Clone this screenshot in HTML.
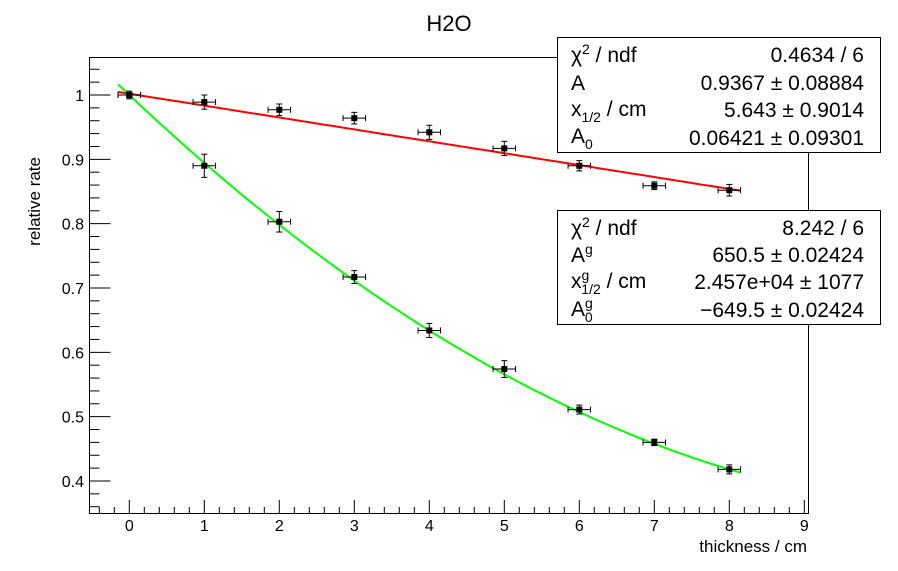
<!DOCTYPE html>
<html><head><meta charset="utf-8"><style>
body{margin:0;background:#fff}
svg{display:block;font-family:"Liberation Sans",sans-serif}
</style></head><body>
<svg id="c" width="898" height="571">
<text x="449" y="31" font-size="22" text-anchor="middle">H2O</text>
<rect x="89.5" y="57.5" width="719" height="456" fill="none" stroke="#000"/>
<g id="ax"></g>
<g id="marks"></g>
<text x="807" y="552" font-size="17" text-anchor="end">thickness / cm</text>
<text transform="translate(40,157) rotate(-90)" font-size="17" text-anchor="end">relative rate</text>
<g font-size="21">
<rect x="557.5" y="37.5" width="323" height="115" fill="#fff" stroke="#000"/>
<text x="571" y="62">χ<tspan font-size="14" dy="-8">2</tspan><tspan dy="8"> / ndf</tspan></text><text x="864" y="62" text-anchor="end">0.4634 / 6</text>
<text x="571" y="90">A</text><text x="864" y="90" text-anchor="end">0.9367 ± 0.08884</text>
<text x="571" y="116">x<tspan font-size="14" dy="6">1/2</tspan><tspan dy="-6"> / cm</tspan></text><text x="864" y="117" text-anchor="end">5.643 ± 0.9014</text>
<text x="571" y="143">A<tspan font-size="14" dy="6">0</tspan></text><text x="864" y="145" text-anchor="end">0.06421 ± 0.09301</text>
</g>
<g font-size="21">
<rect x="557.5" y="210.5" width="323" height="114" fill="#fff" stroke="#000"/>
<text x="571" y="235">χ<tspan font-size="14" dy="-8">2</tspan><tspan dy="8"> / ndf</tspan></text><text x="864" y="235" text-anchor="end">8.242 / 6</text>
<text x="571" y="262">A<tspan font-size="14" dy="-8">g</tspan></text><text x="864" y="262" text-anchor="end">650.5 ± 0.02424</text>
<text x="571" y="288">x<tspan font-size="14" dy="-8">g</tspan><tspan font-size="14" dx="-8" dy="14">1/2</tspan><tspan dy="-6"> / cm</tspan></text><text x="864" y="289" text-anchor="end">2.457e+04 ±  1077</text>
<text x="571" y="316">A<tspan font-size="14" dy="-8">g</tspan><tspan font-size="14" dx="-8" dy="14">0</tspan></text><text x="864" y="317" text-anchor="end">−649.5 ± 0.02424</text>
</g>
</svg>
<script>
const xs=[0,1,2,3,4,5,6,7,8];
const redY=[1.0,0.989,0.977,0.964,0.942,0.917,0.890,0.859,0.852];
const redErr=[0.006,0.011,0.009,0.009,0.011,0.011,0.008,0.006,0.009];
const greenY=[1.0,0.890,0.803,0.717,0.634,0.574,0.511,0.460,0.418];
const greenErr=[0.004,0.018,0.016,0.010,0.011,0.013,0.007,0.005,0.007];
const xErr=0.15;
const xTicks=[0,1,2,3,4,5,6,7,8,9];
const yTicks=[0.4,0.5,0.6,0.7,0.8,0.9,1];
const NS="http://www.w3.org/2000/svg";
const X=v=>129.3+75*v, Y=v=>95+(1-v)*643.3;
function mk(t,a,p){const e=document.createElementNS(NS,t);for(const k in a)e.setAttribute(k,a[k]);p.appendChild(e);return e;}
const ax=document.getElementById('ax'),mg=document.getElementById('marks');
for(let v=-0.4;v<=9.01;v+=0.2){const r=Math.round(v*10)/10;const maj=Math.abs(r-Math.round(r))<1e-6;
 mk('line',{x1:X(r),x2:X(r),y1:513,y2:513-(maj?13:6),stroke:'#000'},ax);}
xTicks.forEach(t=>{const e=mk('text',{x:X(t),y:531,'font-size':16,'text-anchor':'middle'},ax);e.textContent=t;

});
for(let v=0.36;v<=1.06;v+=0.02){const r=Math.round(v*100)/100;const maj=Math.abs(r*10-Math.round(r*10))<1e-6;
 if(Y(r)>513||Y(r)<57)continue;
 mk('line',{x1:89.5,x2:89.5+(maj?21:10),y1:Y(r),y2:Y(r),stroke:'#000'},ax);}
yTicks.forEach(t=>{const e=mk('text',{x:84,y:Y(t)+6,'font-size':16,'text-anchor':'end'},ax);e.textContent=t;

});
function fitPath(f,col,name){let d='';for(let v=-0.15;v<=8.15;v+=0.05)d+=(d?'L':'M')+X(v).toFixed(1)+','+Y(f(v)).toFixed(1);
 const p=mk('path',{d:d,fill:'none',stroke:col,'stroke-width':2},mg);
 
 }
const rA=redY[0],rB=(redY[8]-redY[0])/8;
fitPath(v=>rA+rB*v+0.002,'#f00','red-fit-line');
const g0=greenY[0],g4=greenY[4],g8=greenY[8];
const gc=(g8-2*g4+g0)/32,gb=(g4-g0)/4-4*gc;
fitPath(v=>g0+gb*v+gc*v*v,'#0f0','green-fit-line');
function pts(ys,es,name){xs.forEach((x,i)=>{const g=mk('g',{},mg);
 
 
 const cx=X(x),cy=Y(ys[i]),ey=es[i]*643.3,ex=xErr*75;
 mk('line',{x1:cx-ex,x2:cx+ex,y1:cy,y2:cy,stroke:'#000'},g);
 mk('line',{x1:cx,x2:cx,y1:cy-ey,y2:cy+ey,stroke:'#000'},g);
 mk('line',{x1:cx-ex,x2:cx-ex,y1:cy-3,y2:cy+3,stroke:'#000'},g);
 mk('line',{x1:cx+ex,x2:cx+ex,y1:cy-3,y2:cy+3,stroke:'#000'},g);
 mk('line',{x1:cx-3,x2:cx+3,y1:cy-ey,y2:cy-ey,stroke:'#000'},g);
 mk('line',{x1:cx-3,x2:cx+3,y1:cy+ey,y2:cy+ey,stroke:'#000'},g);
 mk('rect',{x:cx-3,y:cy-3,width:6,height:6,fill:'#000'},g);});}
pts(redY,redErr,'red-data-point');
pts(greenY,greenErr,'green-data-point');
</script>
</body></html>
